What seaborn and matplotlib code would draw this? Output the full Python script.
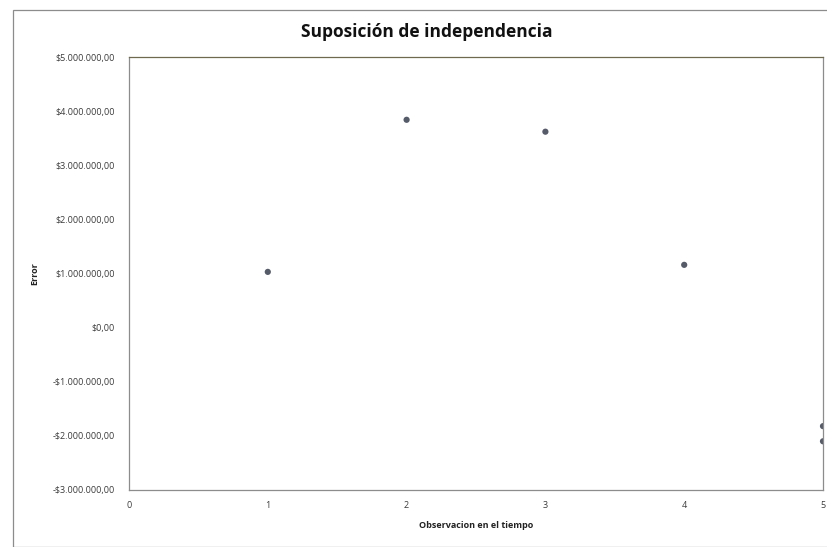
import matplotlib
matplotlib.use("Agg")
import matplotlib.pyplot as plt
import seaborn as sns
import pandas as pd
from matplotlib.ticker import FuncFormatter
from matplotlib.patches import Rectangle

observacion = [1, 2, 3, 4, 5, 5]
error = [1030000, 3840000, 3620000, 1160000, -1820000, -2100000]

y_ticks = [-3000000, -2000000, -1000000, 0, 1000000, 2000000, 3000000, 4000000, 5000000]
x_ticks = [0, 1, 2, 3, 4, 5]

df = pd.DataFrame({"Observacion": observacion, "Error": error})

sns.set_theme(style="white")
plt.rcParams['font.family'] = ['Open Sans', 'DejaVu Sans']

fig = plt.figure(figsize=(8.27, 5.47), dpi=100)
ax = fig.add_axes([129/827, 1 - 490/547, (823 - 129)/827, (490 - 57)/547])

sns.scatterplot(data=df, x="Observacion", y="Error", ax=ax, color="#555b69",
                s=20, marker="o", edgecolor="none", clip_on=True, legend=False)

def fmt(v, pos):
    s = f"{abs(v):,.2f}"
    s = s.replace(",", "X").replace(".", ",").replace("X", ".")
    return ("-$" if v < 0 else "$") + s

ax.set_xlim(0, 5)
ax.set_ylim(-3000000, 5000000)
ax.set_yticks(y_ticks)
ax.set_xticks(x_ticks)
ax.yaxis.set_major_formatter(FuncFormatter(fmt))
ax.tick_params(axis="both", length=0, labelsize=6.5, colors="#3a3a3a")
ax.tick_params(axis="y", pad=10)
ax.tick_params(axis="x", pad=8)

for name, sp in ax.spines.items():
    sp.set_visible(True)
    sp.set_color("#8c8c8c")
    sp.set_linewidth(0.9)
ax.spines["top"].set_color("#6f6a4f")

ax.set_xlabel("Observacion en el tiempo", fontsize=6.5, fontweight="bold", color="#222222", labelpad=8)
ax.set_ylabel("Error", fontsize=6.5, fontweight="bold", color="#222222")
ax.yaxis.set_label_coords(-0.13, 0.5)

fig.text(427/827, 1 - 32/547, "Suposición de independencia", ha="center", va="center",
         fontsize=12.5, fontweight="bold", color="#111111")

fig.patches.append(Rectangle((13/827, 0), 1.0, 1 - 10/547, transform=fig.transFigure,
                             fill=False, edgecolor="#8c8c8c", linewidth=0.9))

fig.savefig("out.png", dpi=100)
